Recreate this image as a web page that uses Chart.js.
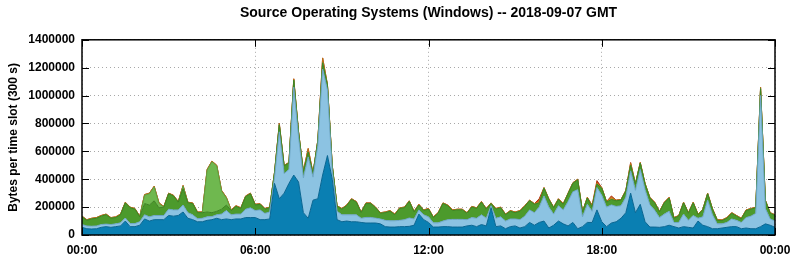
<!DOCTYPE html>
<html>
<head>
<meta charset="utf-8">
<script src="https://cdn.jsdelivr.net/npm/chart.js@4.4.0/dist/chart.umd.min.js"></script>
<style>
  body { margin: 0; background: #fff; }
  canvas { display: block; }
</style>
</head>
<body>
<canvas id="osChart" width="794" height="260"></canvas>
<script>
// traffic per slot in kB (10 minute steps, 145 points)
var slotsPerHour = 6;

var seriesNames = ["Windows 10", "Windows 7", "Windows 8.1", "Windows XP", "Windows Server", "Other Windows"];

var win10 = [
  55,45,43,45,55,60,55,60,65,100,
  60,60,70,115,100,110,110,110,140,135,
  140,165,120,110,95,95,105,110,120,110,
  115,110,115,115,125,125,125,110,110,115,
  370,260,300,370,430,380,160,120,250,260,
  430,570,400,110,95,100,95,95,90,86,
  86,86,80,60,57,57,60,60,62,70,
  150,110,90,57,57,60,60,57,57,57,
  65,70,60,75,65,195,60,65,45,60,
  65,50,60,90,70,90,100,50,70,100,
  80,65,90,45,60,90,90,180,95,60,
  86,95,120,160,300,160,220,95,57,57,
  55,60,70,60,50,60,55,50,100,70,
  60,45,45,50,55,60,60,45,50,45,
  45,60,80,70,55
];

var win7 = [
  20,20,20,20,20,18,20,20,22,22,
  22,22,25,30,30,30,30,30,45,45,
  40,50,40,35,22,25,25,22,25,40,
  60,35,35,35,60,70,50,70,45,50,
  40,480,140,100,630,320,250,440,165,380,
  760,470,60,60,50,45,50,50,30,40,
  40,35,35,45,45,45,45,50,60,45,
  30,35,40,30,30,40,50,55,55,55,
  45,55,60,70,55,15,60,65,55,55,
  50,60,75,90,90,110,180,150,80,110,
  100,175,220,280,70,130,80,160,190,140,
  130,110,90,110,160,160,250,230,160,120,
  70,90,100,30,40,90,50,90,20,60,
  190,100,35,30,35,55,45,45,75,90,
  110,940,110,45,45
];

var win81 = [
  55,40,52,55,60,67,45,45,58,108,
  113,103,35,80,85,105,55,60,110,100,
  55,115,70,80,43,40,35,28,25,35,
  40,30,55,40,90,100,40,40,30,30,
  35,50,55,45,50,35,40,35,25,35,
  45,35,35,35,40,65,110,90,40,99,
  99,74,40,55,68,43,85,85,118,50,
  35,30,55,38,68,125,100,63,68,68,
  45,75,70,90,65,15,65,65,45,55,
  45,60,70,65,60,30,55,55,45,45,
  40,55,60,70,35,45,30,25,50,35,
  39,40,40,45,40,45,45,40,48,53,
  40,80,95,30,45,80,50,90,25,50,
  45,40,25,23,30,40,30,25,50,50,
  40,50,55,40,40
];

var winXP = [
  0,0,0,0,0,0,0,0,0,0,
  0,0,0,60,80,100,30,0,0,0,
  0,20,0,0,0,0,300,365,325,130,
  50,0,0,0,0,0,0,0,0,0,
  0,0,0,0,0,0,0,0,0,0,
  0,0,0,0,0,0,0,0,0,0,
  0,0,0,0,0,0,0,0,0,0,
  0,0,0,0,0,0,0,0,0,0,
  0,0,0,0,0,0,0,0,0,0,
  0,0,0,0,0,0,0,0,0,0,
  0,0,0,0,0,0,0,0,0,0,
  0,0,0,0,0,0,0,0,0,0,
  0,0,0,0,0,0,0,0,0,0,
  0,0,0,0,0,0,0,0,0,0,
  0,0,0,0,0
];

var winServer = [
  5,5,5,5,5,5,5,5,5,5,
  5,5,5,5,5,5,5,5,5,5,
  5,5,5,5,5,5,5,5,5,5,
  5,5,5,5,5,5,5,5,5,5,
  5,10,5,5,10,5,10,25,5,5,
  35,5,5,5,5,5,5,5,5,5,
  5,5,5,5,5,5,5,5,5,5,
  5,5,5,5,5,5,5,5,5,5,
  5,5,5,5,5,5,5,5,5,5,
  5,5,5,5,5,10,5,5,5,5,
  5,5,5,5,5,5,10,10,5,5,
  15,5,5,5,15,5,5,5,5,5,
  5,5,5,5,5,5,5,5,5,5,
  5,5,5,5,5,5,5,5,5,5,
  5,10,5,5,5
];

var winOther = [
  0,0,0,0,0,0,0,0,0,0,
  0,0,0,0,0,0,0,0,0,0,
  0,0,0,0,0,0,0,0,0,0,
  0,0,0,0,0,0,0,0,0,0,
  0,0,0,0,0,0,0,0,0,0,
  0,0,0,0,0,0,0,0,0,0,
  0,0,0,0,0,0,0,0,0,0,
  0,0,0,0,0,0,0,0,0,0,
  0,0,0,0,0,0,0,0,0,0,
  0,0,0,0,0,20,0,0,0,0,
  0,0,0,0,0,0,5,15,0,0,
  10,0,0,0,5,0,0,0,0,0,
  0,0,0,0,0,0,0,0,0,0,
  0,0,0,0,0,0,0,0,0,0,
  0,0,0,0,0
];

var xTickLabels = ["00:00", "06:00", "12:00", "18:00", "00:00"];

var fillColors = ["#0a7fb2", "#8cc3e2", "#4c9a2c", "#6fb84f", "#d98a22", "#d2401a"];
var lineColors = ["#0a6692", "#6ea6c6", "#3f8424", "#5ea040", "#b87016", "#b03010"];

var allSeries = [win10, win7, win81, winXP, winServer, winOther];

var datasets = allSeries.map(function(values, k) {
  return {
    label: seriesNames[k],
    data: values.map(function(v, i) { return { x: i / slotsPerHour, y: v * 1000 }; }),
    backgroundColor: fillColors[k],
    borderColor: lineColors[k],
    borderWidth: 1,
    pointRadius: 0,
    tension: 0,
    fill: k === 0 ? 'origin' : '-1'
  };
});

var framePlugin = {
  id: 'frame',
  afterDatasetsDraw: function(chart) {
    var ctx = chart.ctx;
    var a = chart.chartArea;
    ctx.save();
    ctx.strokeStyle = '#000';
    ctx.lineWidth = 1.5;
    ctx.strokeRect(a.left, a.top, a.right - a.left, a.bottom - a.top);
    ctx.lineWidth = 1;
    ctx.beginPath();
    chart.scales.y.ticks.forEach(function(t) {
      var y = Math.round(chart.scales.y.getPixelForValue(t.value)) + 0.5;
      ctx.moveTo(a.left, y); ctx.lineTo(a.left + 7, y);
      ctx.moveTo(a.right, y); ctx.lineTo(a.right - 7, y);
    });
    chart.scales.x.ticks.forEach(function(t) {
      var x = Math.round(chart.scales.x.getPixelForValue(t.value)) + 0.5;
      ctx.moveTo(x, a.bottom); ctx.lineTo(x, a.bottom - 7);
      ctx.moveTo(x, a.top); ctx.lineTo(x, a.top + 7);
    });
    ctx.stroke();
    ctx.restore();
  }
};

var fontFamily = '"Liberation Sans", Arial, Helvetica, sans-serif';

new Chart(document.getElementById('osChart').getContext('2d'), {
  type: 'line',
  data: { datasets: datasets },
  plugins: [framePlugin],
  options: {
    responsive: false,
    animation: false,
    events: [],
    layout: { padding: { left: 0, right: 19, bottom: 0, top: 0 } },
    plugins: {
      legend: { display: false },
      tooltip: { enabled: false },
      title: {
        display: true,
        fullSize: false,
        text: 'Source Operating Systems (Windows) -- 2018-09-07 GMT',
        color: '#000',
        font: { family: fontFamily, size: 14, weight: 'bold' },
        padding: { top: 5, bottom: 18 }
      }
    },
    scales: {
      x: {
        type: 'linear',
        min: 0,
        max: 24,
        afterFit: function(scale) {
          scale.height = 25;
          scale.paddingLeft = 0;
          scale.paddingRight = 0;
        },
        afterBuildTicks: function(scale) {
          scale.ticks = [0, 6, 12, 18, 24].map(function(v) { return { value: v }; });
        },
        ticks: {
          color: '#000',
          padding: 8,
          maxRotation: 0,
          font: { family: fontFamily, size: 12, weight: 'bold' },
          callback: function(v) { return xTickLabels[Math.round(v / 6)]; }
        },
        grid: { color: '#a8a8a8', drawTicks: false },
        border: { display: false, dash: [1, 3] }
      },
      y: {
        stacked: true,
        min: 0,
        max: 1400000,
        afterFit: function(scale) {
          scale.width = 82;
          scale.paddingTop = 0;
          scale.paddingBottom = 0;
        },
        ticks: {
          stepSize: 200000,
          color: '#000',
          padding: 7,
          font: { family: fontFamily, size: 12, weight: 'bold' },
          callback: function(v) { return String(v); }
        },
        title: {
          display: true,
          text: 'Bytes per time slot (300 s)',
          color: '#000',
          font: { family: fontFamily, size: 12, weight: 'bold' },
          padding: { top: 6, bottom: 0 }
        },
        grid: { color: '#a8a8a8', drawTicks: false },
        border: { display: false, dash: [1, 3] }
      }
    }
  }
});
</script>
</body>
</html>
